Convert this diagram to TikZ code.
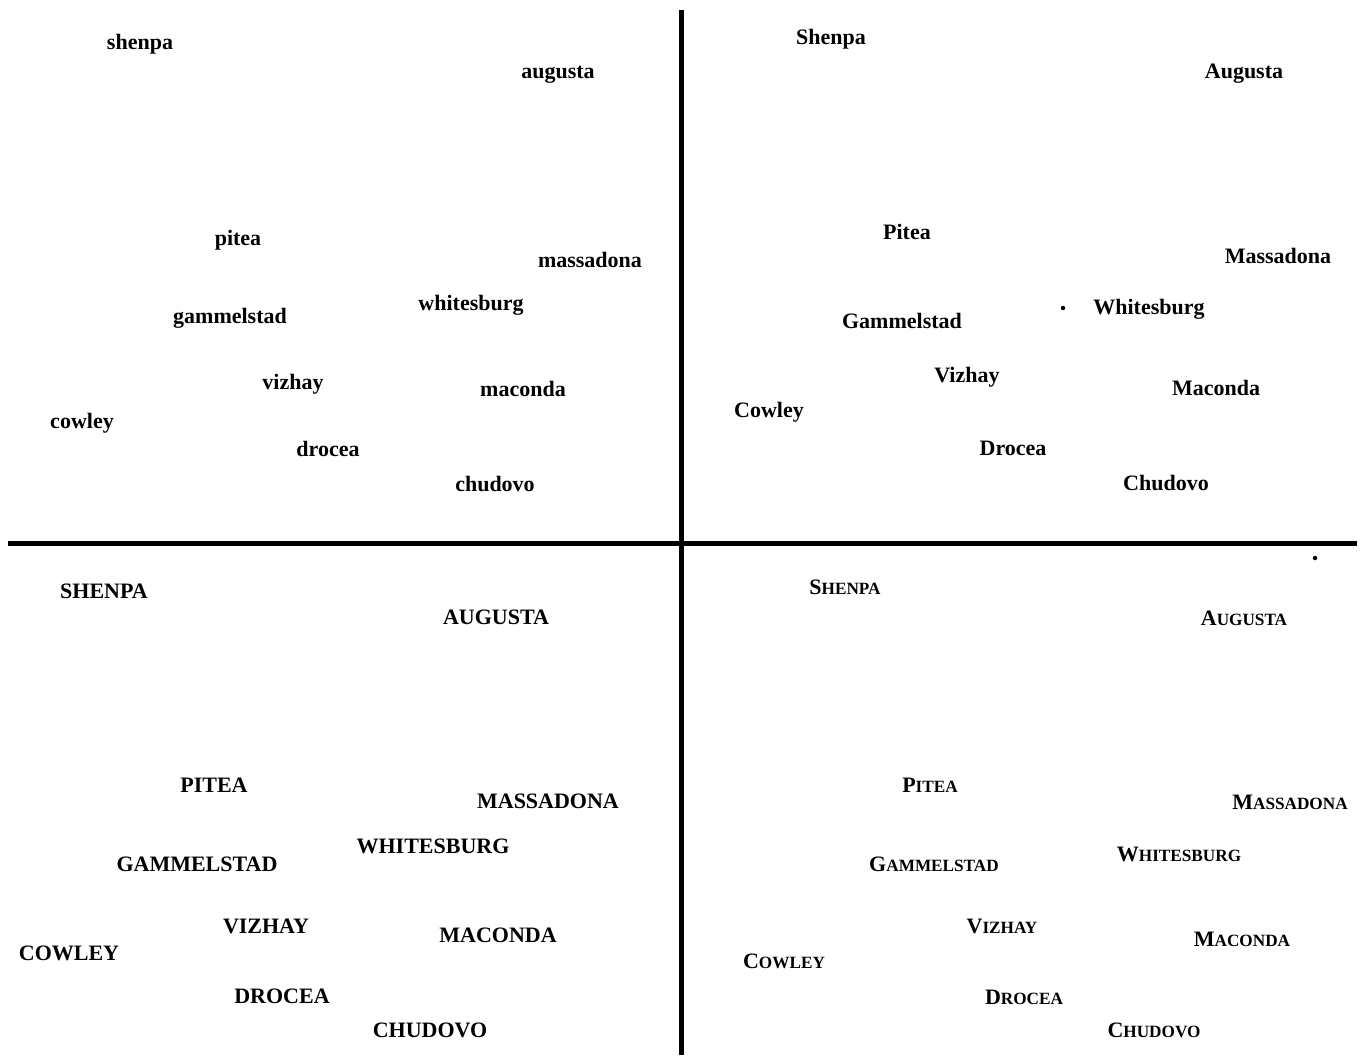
\documentclass[tikz,border=0pt]{standalone}
\usepackage{fontspec}
\setmainfont{Liberation Serif}
\newcommand{\fsc}[2]{#1{\fontsize{17.2}{19}\selectfont #2}}
\begin{document}
\begin{tikzpicture}[x=1pt,y=-1pt,
  lbl/.style={anchor=base,inner sep=0pt,font=\fontsize{22}{26}\selectfont\bfseries},
  axis/.style={line width=5pt},
  speck/.style={fill=black,circle,inner sep=0pt,minimum size=4.5pt}]
\useasboundingbox (0,0) rectangle (1362,1055);
\coordinate (vt) at (681,10);
\coordinate (vb) at (681,1055);
\coordinate (hl) at (8,543);
\coordinate (hr) at (1357,543);
\draw[axis] (vt) -- (vb);
\draw[axis] (hl) -- (hr);
% Q1 lowercase
\node[lbl] (a1) at (140,49) {shenpa};
\node[lbl] (a2) at (558,78) {augusta};
\node[lbl] (a3) at (238,245) {pitea};
\node[lbl] (a4) at (590,267) {massadona};
\node[lbl] (a5) at (471,310) {whitesburg};
\node[lbl] (a6) at (230,323) {gammelstad};
\node[lbl] (a7) at (293,389) {vizhay};
\node[lbl] (a8) at (523,396) {maconda};
\node[lbl] (a9) at (82,428) {cowley};
\node[lbl] (a10) at (328,456) {drocea};
\node[lbl] (a11) at (495,491) {chudovo};
% Q2 capitalised
\node[lbl] (b1) at (831,44) {Shenpa};
\node[lbl] (b2) at (1244,78) {Augusta};
\node[lbl] (b3) at (907,239) {Pitea};
\node[lbl] (b4) at (1278,263) {Massadona};
\node[lbl] (b5) at (1149,314) {Whitesburg};
\node[speck] (dot1) at (1063,308) {};
\node[lbl] (b6) at (902,328) {Gammelstad};
\node[lbl] (b7) at (967,382) {Vizhay};
\node[lbl] (b8) at (1216,395) {Maconda};
\node[lbl] (b9) at (769,417) {Cowley};
\node[lbl] (b10) at (1013,455) {Drocea};
\node[lbl] (b11) at (1166,490) {Chudovo};
% Q3 uppercase
\node[lbl] (c1) at (104,598) {SHENPA};
\node[lbl] (c2) at (496,624) {AUGUSTA};
\node[lbl] (c3) at (214,792) {PITEA};
\node[lbl] (c4) at (548,808) {MASSADONA};
\node[lbl] (c5) at (433,853) {WHITESBURG};
\node[lbl] (c6) at (197,871) {GAMMELSTAD};
\node[lbl] (c7) at (266,933) {VIZHAY};
\node[lbl] (c8) at (498,942) {MACONDA};
\node[lbl] (c9) at (69,960) {COWLEY};
\node[lbl] (c10) at (282,1003) {DROCEA};
\node[lbl] (c11) at (430,1037) {CHUDOVO};
% Q4 small capitals
\node[speck] (dot2) at (1315,558) {};
\node[lbl] (d1) at (845,594) {\fsc{S}{HENPA}};
\node[lbl] (d2) at (1244,625) {\fsc{A}{UGUSTA}};
\node[lbl] (d3) at (930,792) {\fsc{P}{ITEA}};
\node[lbl] (d4) at (1290,809) {\fsc{M}{ASSADONA}};
\node[lbl] (d5) at (1179,861) {\fsc{W}{HITESBURG}};
\node[lbl] (d6) at (934,871) {\fsc{G}{AMMELSTAD}};
\node[lbl] (d7) at (1002,933) {\fsc{V}{IZHAY}};
\node[lbl] (d8) at (1242,946) {\fsc{M}{ACONDA}};
\node[lbl] (d9) at (784,968) {\fsc{C}{OWLEY}};
\node[lbl] (d10) at (1024,1004) {\fsc{D}{ROCEA}};
\node[lbl] (d11) at (1154,1037) {\fsc{C}{HUDOVO}};
\end{tikzpicture}
\end{document}
